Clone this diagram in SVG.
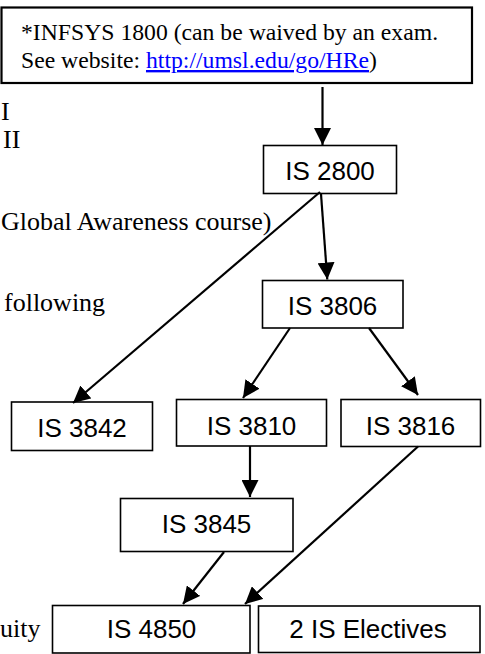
<svg xmlns="http://www.w3.org/2000/svg" width="485" height="654" viewBox="0 0 485 654">
<style>
.box{fill:#fff;stroke:#000;stroke-width:1.6}
.lbl{font-family:"Liberation Sans",Arial,sans-serif;font-size:26px;fill:#000;text-anchor:middle}
.ser{font-family:"Liberation Serif","Times New Roman",serif;fill:#000}
.edge{stroke:#000;stroke-width:2.2;fill:none}
</style>
<defs>
<marker id="ah" markerUnits="userSpaceOnUse" markerWidth="17" markerHeight="17" refX="16" refY="8" orient="auto" viewBox="0 0 16 16">
<path d="M0,0 L16,8 L0,16 z" fill="#000"/>
</marker>
</defs>
<rect width="485" height="654" fill="#fff"/>
<g id="side-text" class="ser" font-size="26">
<text x="1" y="120">I</text>
<text x="3" y="148">II</text>
<text x="1" y="230">Global Awareness course)</text>
<text x="4" y="311">following</text>
<text x="0" y="637">uity</text>
</g>
<g id="infsys1800">
<rect x="1.5" y="7.5" width="470.5" height="75.5" fill="#fff" stroke="#000" stroke-width="2.2"/>
<text class="ser" font-size="23.7" x="21" y="40">*INFSYS 1800 (can be waived by an exam.</text>
<text class="ser" font-size="23.7" x="21" y="68">See website: <tspan fill="#0000ff" text-decoration="underline">http://umsl.edu/go/HRe</tspan>)</text>
</g>
<g id="is2800"><rect class="box" x="263.5" y="145.5" width="133" height="48"/><text class="lbl" x="330" y="180">IS 2800</text></g>
<g id="is3806"><rect class="box" x="262.5" y="280.5" width="140.5" height="47.5"/><text class="lbl" x="332.5" y="315">IS 3806</text></g>
<g id="is3842"><rect class="box" x="11.5" y="402" width="141" height="48.5"/><text class="lbl" x="82" y="437">IS 3842</text></g>
<g id="is3810"><rect class="box" x="176.5" y="399.5" width="150" height="46.5"/><text class="lbl" x="251.5" y="435">IS 3810</text></g>
<g id="is3816"><rect class="box" x="341" y="399.5" width="139.5" height="47"/><text class="lbl" x="410.5" y="435">IS 3816</text></g>
<g id="is3845"><rect class="box" x="120.5" y="498.5" width="172.5" height="53"/><text class="lbl" x="206.5" y="533">IS 3845</text></g>
<g id="is4850"><rect class="box" x="52.5" y="605.5" width="197.5" height="47.5"/><text class="lbl" x="151.5" y="638">IS 4850</text></g>
<g id="electives"><rect class="box" x="258.5" y="606" width="221.5" height="46.5"/><text class="lbl" x="368" y="638">2 IS Electives</text></g>
<g id="connectors">
<line class="edge" x1="322.5" y1="87" x2="322.5" y2="145" marker-end="url(#ah)"/>
<line class="edge" x1="321" y1="194" x2="327.3" y2="279.5" marker-end="url(#ah)"/>
<line class="edge" x1="320" y1="192" x2="73" y2="403" marker-end="url(#ah)"/>
<line class="edge" x1="290" y1="328" x2="243" y2="398" marker-end="url(#ah)"/>
<line class="edge" x1="369" y1="328" x2="418" y2="395" marker-end="url(#ah)"/>
<line class="edge" x1="250" y1="446" x2="250" y2="497" marker-end="url(#ah)"/>
<line class="edge" x1="418" y1="446.5" x2="245" y2="604" marker-end="url(#ah)"/>
<line class="edge" x1="224" y1="552" x2="183" y2="604" marker-end="url(#ah)"/>
</g>
</svg>
